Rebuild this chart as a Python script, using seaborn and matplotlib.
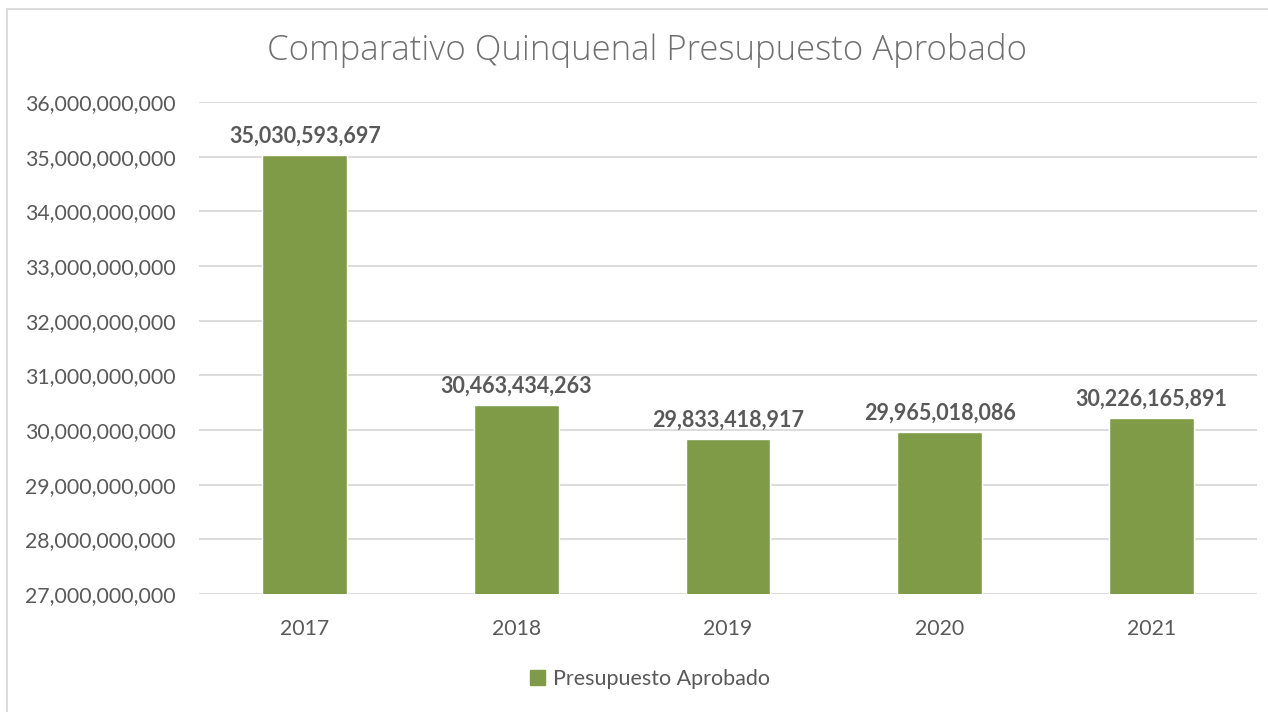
import pandas as pd
import matplotlib.pyplot as plt
import seaborn as sns
from matplotlib.patches import Patch, Rectangle
from matplotlib.ticker import FuncFormatter

# Datos
anios = ['2017', '2018', '2019', '2020', '2021']
presupuesto = [35030593697, 30463434263, 29833418917, 29965018086, 30226165891]

df = pd.DataFrame({'Año': anios, 'Presupuesto Aprobado': presupuesto})

sns.set_style('white')
plt.rcParams['font.family'] = ['Lato', 'DejaVu Sans']

verde = '#7F9B48'
gris = '#595959'

fig = plt.figure(figsize=(12.68, 7.12), dpi=100)
ax = fig.add_axes([199 / 1268, 118 / 712, 1058 / 1268, 492 / 712])

sns.barplot(data=df, x='Año', y='Presupuesto Aprobado', color=verde,
            width=0.4, saturation=1, ax=ax, zorder=3)

ax.set_ylim(27e9, 36e9)
ax.set_yticks([27e9 + i * 1e9 for i in range(10)])
ax.yaxis.set_major_formatter(FuncFormatter(lambda v, p: f'{v:,.0f}'))
ax.grid(axis='y', color='#D9D9D9', linewidth=1.3, zorder=0)
for s in ax.spines.values():
    s.set_visible(False)
ax.set_xlabel('')
ax.set_ylabel('')
ax.tick_params(axis='both', length=0, labelsize=15.3, labelcolor=gris)
ax.tick_params(axis='y', pad=17)
ax.tick_params(axis='x', pad=18)

# Etiquetas de valores
for i, v in enumerate(presupuesto):
    ax.annotate(f'{v:,.0f}', (i, v), xytext=(0, 6), textcoords='offset points',
                ha='center', va='bottom', fontsize=15.5, fontweight='bold', color=gris)

# Título
fig.text(647 / 1268, 1 - 51 / 712, 'Comparativo Quinquenal Presupuesto Aprobado',
         ha='center', va='center', fontsize=25, color='#707070',
         family=['Open Sans', 'DejaVu Sans'], fontweight='light')

# Leyenda
fig.legend(handles=[Patch(color=verde, label='Presupuesto Aprobado')],
           loc='center', bbox_to_anchor=(650 / 1268, 1 - 679 / 712), frameon=False,
           fontsize=15.5, labelcolor=gris, handlelength=0.7, handleheight=0.7,
           handletextpad=0.4)

# Borde del gráfico
fig.patches.append(Rectangle((7 / 1268, -0.05), 1.1, 1 - 9 / 712 + 0.05,
                             transform=fig.transFigure, fill=False,
                             edgecolor='#D9D9D9', linewidth=1.3))

fig.savefig('out.png', dpi=100)
